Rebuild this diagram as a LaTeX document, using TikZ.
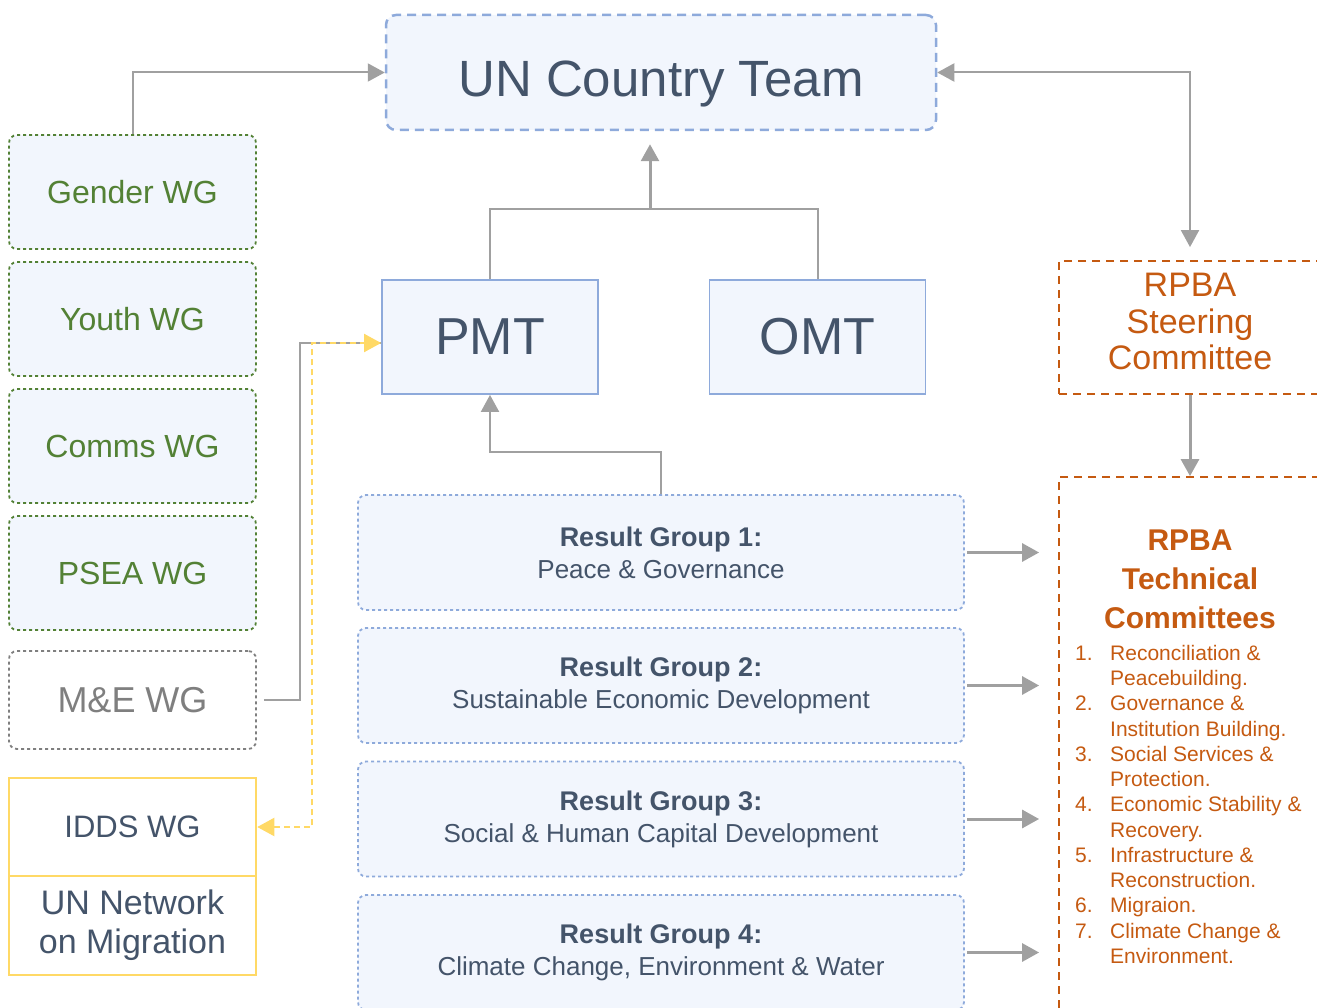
\documentclass[tikz,border=0pt]{standalone}
\usepackage{fontspec}
\setmainfont{Liberation Sans}
\usetikzlibrary{arrows.meta}

\definecolor{slate}{HTML}{44546A}
\definecolor{boxblue}{HTML}{8EAADB}
\definecolor{boxfill}{HTML}{F2F6FD}
\definecolor{wggreen}{HTML}{538135}
\definecolor{rpbaorange}{HTML}{C55A11}
\definecolor{conngray}{HTML}{A0A0A0}
\definecolor{megray}{HTML}{7F7F7F}
\definecolor{iddsyellow}{HTML}{FFD966}

\newcommand{\setfs}[2]{\fontsize{#1}{#2}\selectfont}
\newcommand{\rgtitle}[1]{{\setfs{27}{32}\bfseries #1}}

\begin{document}
\begin{tikzpicture}[x=1pt, y=-1pt,
        conn/.style={draw=conngray, line width=2pt},
        arr/.style={conn, -{Triangle[length=17pt,width=18pt]}},
        biarr/.style={conn, {Triangle[length=17pt,width=18pt]}-{Triangle[length=17pt,width=18pt]}},
        thickarr/.style={arr, line width=3pt},
        yellowarr/.style={draw=iddsyellow, line width=2pt, dash pattern=on 6pt off 4pt,
            {Triangle[length=17pt,width=18pt]}-{Triangle[length=17pt,width=18pt]}},
        teambox/.style={draw=boxblue, fill=boxfill, line width=2.5pt, dash pattern=on 9pt off 6pt,
            rounded corners=10pt, minimum width=550pt, minimum height=115pt, text=slate,
            font=\setfs{51}{60}, text height=49pt, text depth=0pt},
        mgmtbox/.style={draw=boxblue, fill=boxfill, line width=1.8pt, minimum width=216pt,
            minimum height=114pt, text=slate, font=\setfs{52}{60}},
        wgbox/.style={draw=wggreen, fill=boxfill, line width=1.8pt, dash pattern=on 3pt off 3pt,
            rounded corners=8pt, minimum width=247pt, minimum height=114pt, text=wggreen,
            font=\setfs{32}{38}},
        rgbox/.style={draw=boxblue, fill=boxfill, line width=1.8pt, dash pattern=on 3pt off 3pt,
            rounded corners=8pt, minimum width=606pt, minimum height=115pt, text=slate,
            align=center, font=\setfs{26}{32}},
        rpbabox/.style={draw=rpbaorange, line width=1.8pt, dash pattern=on 8pt off 6pt,
            minimum width=262pt, text=rpbaorange, align=center}
    ]
    \useasboundingbox (0,0) rectangle (1317,1008);
    \clip (0,0) rectangle (1317,1008);

    % top level
    \node[teambox] (unct) at (661,72.5) {UN Country Team};
    \node[mgmtbox] (pmt) at (490,337) {PMT};
    \node[mgmtbox] (omt) at (817.5,337) {OMT};

    % working groups on the left
    \node[wgbox] (gender) at (132.5,192) {Gender WG};
    \node[wgbox] (youth) at (132.5,319) {Youth WG};
    \node[wgbox] (comms) at (132.5,446) {Comms WG};
    \node[wgbox] (psea) at (132.5,573) {PSEA WG};
    \node[wgbox, draw=megray, fill=white, text=megray, minimum height=98pt,
        font=\setfs{36}{42}] (me) at (132.5,700) {M\&E WG};
    \node[draw=iddsyellow, line width=2.5pt, fill=white, minimum width=247pt, minimum height=98pt,
        text=slate, font=\setfs{31}{38}] (idds) at (132.5,827) {IDDS WG};
    \node[draw=iddsyellow, line width=2.5pt, fill=white, minimum width=247pt, minimum height=99pt,
        text=slate, align=center, font=\setfs{34}{39}] (unnet) at (132.5,925.5) {UN Network\\on Migration};

    % result groups
    \node[rgbox] (rg1) at (661,552.5) {\rgtitle{Result Group 1:}\\Peace \& Governance};
    \node[rgbox] (rg2) at (661,685.5) {\rgtitle{Result Group 2:}\\Sustainable Economic Development};
    \node[rgbox] (rg3) at (661,819) {\rgtitle{Result Group 3:}\\Social \& Human Capital Development};
    \node[rgbox] (rg4) at (661,952.5) {\rgtitle{Result Group 4:}\\Climate Change, Environment \& Water};

    % RPBA committees on the right
    \node[rpbabox, minimum height=133pt, font=\setfs{34}{36.5}, text depth=12pt] (steer) at (1190,327.5)
        {RPBA\\Steering\\Committee};
    \node[rpbabox, minimum height=563pt] (tc) at (1190,758.5) {};
    \node[text=rpbaorange, align=center, font=\setfs{30}{39}\bfseries] (tctitle) at (1190,579)
        {RPBA\\Technical\\Committees};
    \node[anchor=north west, inner sep=0pt, text=rpbaorange, font=\setfs{21}{25.25}] (tclist)
        at (1075,642.4) {%
        \begin{tabular}{@{}p{35pt}@{}l@{}}
            1. & Reconciliation \& \\
               & Peacebuilding. \\
            2. & Governance \& \\
               & Institution Building. \\
            3. & Social Services \& \\
               & Protection. \\
            4. & Economic Stability \& \\
               & Recovery. \\
            5. & Infrastructure \& \\
               & Reconstruction. \\
            6. & Migraion. \\
            7. & Climate Change \& \\
               & Environment. \\
        \end{tabular}};

    % connectors
    \coordinate (join) at (650,209);
    \draw[conn] (pmt.north) |- (join) -| (omt.north);
    \draw[arr, line width=3pt, shorten >=13pt] (join) -- (join |- unct.south);
    \draw[arr] (gender.north) |- (unct.west);
    \draw[biarr, shorten >=13pt] (unct.east) -| (steer.north);
    \draw[thickarr] (steer.south) -- (tc.north);
    \draw[arr] (rg1.north) -- ++(0,-42) -| (pmt.south);
    \foreach \i in {1,...,4}
        \draw[thickarr, shorten <=2pt, shorten >=19pt] (rg\i.east) -- (rg\i.east -| tc.west);

    % M&E and IDDS links to PMT
    \coordinate (mebend) at (300,343);
    \coordinate (iddsbend) at (312,343);
    \draw[conn, shorten <=7pt] (me.east) -| (mebend) -- (mebend -| pmt.west);
    \draw[yellowarr] (idds.east) -| (iddsbend) -- (iddsbend -| pmt.west);
\end{tikzpicture}
\end{document}
